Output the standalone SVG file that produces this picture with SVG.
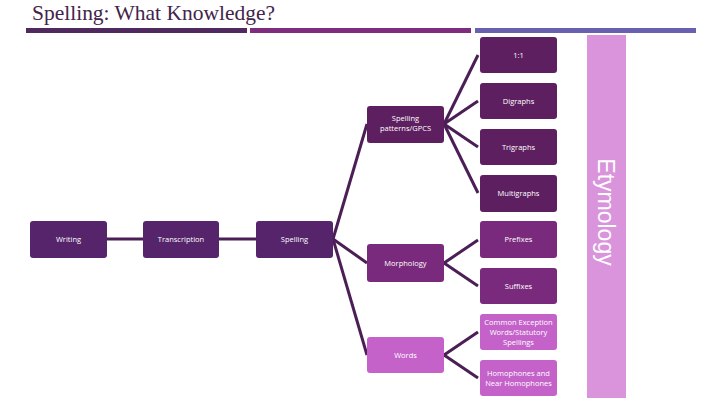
<svg xmlns="http://www.w3.org/2000/svg" width="720" height="405" viewBox="0 0 720 405">
<style>
.t{font-family:"Open Sans","Liberation Sans",sans-serif;font-size:7.5px;fill:#ffffff;text-anchor:middle}
.d{fill:#5e1f60}
.m{fill:#7a2a7c}
.l{fill:#c462c9}
.w{fill:#55246a}
.c{stroke:#4b1f55;stroke-width:3;fill:none;stroke-linecap:butt}
</style>
<rect width="720" height="405" fill="#ffffff"/>
<text x="32" y="19.5" font-family="Liberation Serif,serif" font-size="21" fill="#43244a" textLength="243" lengthAdjust="spacingAndGlyphs">Spelling: What Knowledge?</text>
<rect x="26" y="28" width="221" height="5" fill="#4f2a5e"/>
<rect x="250" y="28" width="221" height="5" fill="#7e2c7e"/>
<rect x="475" y="28" width="221" height="5" fill="#6960b0"/>
<g id="etymology">
<rect x="587" y="35" width="39" height="363" fill="#d994dc"/>
<text transform="translate(598,212) rotate(90)" font-family="Liberation Sans,sans-serif" font-size="23" fill="#ffffff" text-anchor="middle">Etymology</text>
</g>
<g id="connectors" class="c">
<line x1="107" y1="239" x2="143" y2="239"/>
<line x1="219" y1="239" x2="256" y2="239"/>
<line x1="333" y1="239" x2="367" y2="124"/>
<line x1="333" y1="239" x2="367" y2="263"/>
<line x1="333" y1="239" x2="367" y2="355"/>
<line x1="444" y1="124" x2="478" y2="55"/>
<line x1="444" y1="124" x2="478" y2="101"/>
<line x1="444" y1="124" x2="478" y2="147"/>
<line x1="444" y1="124" x2="478" y2="193"/>
<line x1="444" y1="263" x2="478" y2="240"/>
<line x1="444" y1="263" x2="478" y2="286"/>
<line x1="444" y1="355" x2="478" y2="332"/>
<line x1="444" y1="355" x2="478" y2="378"/>
</g>
<g id="writing"><rect class="w" x="30" y="221" width="77" height="37" rx="3"/><text class="t" x="68.5" y="242">Writing</text></g>
<g id="transcription"><rect class="w" x="143" y="221" width="76" height="37" rx="3"/><text class="t" x="181" y="242">Transcription</text></g>
<g id="spelling"><rect class="w" x="256" y="221" width="77" height="37" rx="3"/><text class="t" x="294.5" y="242">Spelling</text></g>
<g id="patterns"><rect class="d" x="367" y="106" width="77" height="37" rx="3"/><text class="t" x="405.5" y="121">Spelling</text><text class="t" x="405.5" y="131">patterns/GPCS</text></g>
<g id="morphology"><rect class="m" x="367" y="244" width="77" height="38" rx="3"/><text class="t" x="405.5" y="266">Morphology</text></g>
<g id="words"><rect class="l" x="367" y="337" width="77" height="36" rx="3"/><text class="t" x="405.5" y="358">Words</text></g>
<g id="n11"><rect class="d" x="480" y="37" width="77" height="36" rx="3"/><text class="t" x="518.5" y="58">1:1</text></g>
<g id="digraphs"><rect class="d" x="480" y="83" width="77" height="36" rx="3"/><text class="t" x="518.5" y="104">Digraphs</text></g>
<g id="trigraphs"><rect class="d" x="480" y="129" width="77" height="36" rx="3"/><text class="t" x="518.5" y="150">Trigraphs</text></g>
<g id="multigraphs"><rect class="d" x="480" y="175" width="77" height="37" rx="3"/><text class="t" x="518.5" y="196">Multigraphs</text></g>
<g id="prefixes"><rect class="m" x="480" y="221" width="77" height="37" rx="3"/><text class="t" x="518.5" y="242">Prefixes</text></g>
<g id="suffixes"><rect class="m" x="480" y="268" width="77" height="36" rx="3"/><text class="t" x="518.5" y="289">Suffixes</text></g>
<g id="cew"><rect class="l" x="480" y="314" width="77" height="36" rx="3"/><text class="t" x="518.5" y="325">Common Exception</text><text class="t" x="518.5" y="335">Words/Statutory</text><text class="t" x="518.5" y="345">Spellings</text></g>
<g id="homophones"><rect class="l" x="480" y="360" width="77" height="36" rx="3"/><text class="t" x="518.5" y="376">Homophones and</text><text class="t" x="518.5" y="386">Near Homophones</text></g>
</svg>
